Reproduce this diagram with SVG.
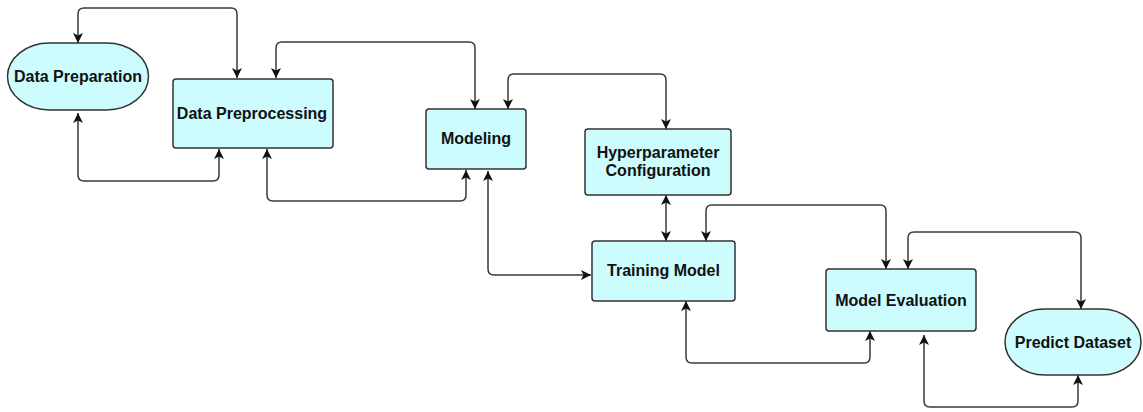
<svg xmlns="http://www.w3.org/2000/svg" width="1143" height="412" viewBox="0 0 1143 412">
  <style>
    .box { fill: #ccfcfd; stroke: #333333; stroke-width: 1.5; }
    .lbl { font-family: "Liberation Sans", Arial, sans-serif; font-weight: bold; font-size: 16px; fill: #111111; text-anchor: middle; dominant-baseline: central; }
    .wire { fill: none; stroke: #3a3a3a; stroke-width: 1.5; marker-start: url(#head); marker-end: url(#head); }
  </style>
  <defs>
    <marker id="head" viewBox="0 0 10 10" refX="10" refY="5" markerWidth="10" markerHeight="10" markerUnits="userSpaceOnUse" orient="auto-start-reverse">
      <path d="M0,0 L10,5 L0,10 L2.5,5 Z" fill="#111111"/>
    </marker>
  </defs>
  <rect width="1143" height="412" fill="#ffffff"/>

  <g id="connectors">
    <!-- Data Preparation <-> Data Preprocessing (top) -->
    <path class="wire" d="M78,43 V14 Q78,8 84,8 H231 Q237,8 237,14 V78"/>
    <!-- Data Preparation <-> Data Preprocessing (bottom) -->
    <path class="wire" d="M78,113 V175 Q78,181 84,181 H213 Q219,181 219,175 V149"/>
    <!-- Data Preprocessing <-> Modeling (top) -->
    <path class="wire" d="M276,78 V48 Q276,42 282,42 H469 Q475,42 475,48 V109"/>
    <!-- Data Preprocessing <-> Modeling (bottom) -->
    <path class="wire" d="M267,149 V195 Q267,201 273,201 H460 Q466,201 466,195 V170"/>
    <!-- Modeling <-> Hyperparameter Configuration -->
    <path class="wire" d="M508,109 V80 Q508,74 514,74 H660 Q666,74 666,80 V129"/>
    <!-- Modeling <-> Training Model -->
    <path class="wire" d="M488,171 V269 Q488,275 494,275 H591"/>
    <!-- Hyperparameter Configuration <-> Training Model -->
    <path class="wire" d="M666,195 V241"/>
    <!-- Training Model <-> Model Evaluation (top) -->
    <path class="wire" d="M706,241 V211 Q706,205 712,205 H880 Q886,205 886,211 V269"/>
    <!-- Training Model <-> Model Evaluation (bottom) -->
    <path class="wire" d="M686,301 V357 Q686,363 692,363 H864 Q870,363 870,357 V331"/>
    <!-- Model Evaluation <-> Predict Dataset (top) -->
    <path class="wire" d="M908,269 V238 Q908,232 914,232 H1075 Q1081,232 1081,238 V309"/>
    <!-- Model Evaluation <-> Predict Dataset (bottom) -->
    <path class="wire" d="M924,335 V401 Q924,407 930,407 H1072 Q1078,407 1078,401 V375"/>
  </g>

  <g id="data-preparation">
    <rect class="box" x="7.5" y="43" width="141" height="67" rx="42" ry="33.5"/>
    <text class="lbl" x="78" y="76">Data Preparation</text>
  </g>
  <g id="data-preprocessing">
    <rect class="box" x="173" y="79" width="160" height="69" rx="3"/>
    <text class="lbl" x="252" y="113">Data Preprocessing</text>
  </g>
  <g id="modeling">
    <rect class="box" x="426" y="109" width="100" height="60" rx="3"/>
    <text class="lbl" x="476" y="138.5">Modeling</text>
  </g>
  <g id="hyperparameter-configuration">
    <rect class="box" x="585" y="129" width="146" height="66" rx="3"/>
    <text class="lbl" x="658" y="152.5">Hyperparameter</text>
    <text class="lbl" x="658" y="170.5">Configuration</text>
  </g>
  <g id="training-model">
    <rect class="box" x="592" y="241" width="143" height="60" rx="3"/>
    <text class="lbl" x="663.5" y="270">Training Model</text>
  </g>
  <g id="model-evaluation">
    <rect class="box" x="826" y="269" width="150" height="62" rx="3"/>
    <text class="lbl" x="901" y="300">Model Evaluation</text>
  </g>
  <g id="predict-dataset">
    <rect class="box" x="1005" y="309" width="136" height="66" rx="40" ry="33"/>
    <text class="lbl" x="1073" y="342">Predict Dataset</text>
  </g>
</svg>
